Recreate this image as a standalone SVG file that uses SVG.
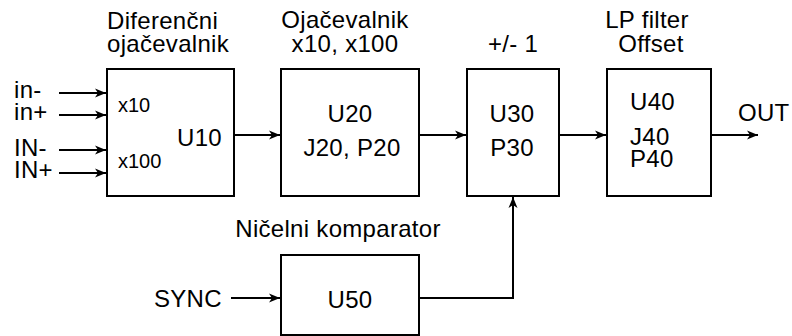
<svg xmlns="http://www.w3.org/2000/svg" width="792" height="336" viewBox="0 0 792 336">
<style>
text{font-family:"Liberation Sans",Arial,sans-serif;fill:#000}
.t{font-size:24px;letter-spacing:0.3px}
.s{font-size:20px}
.box{fill:#fff;stroke:#000;stroke-width:2}
.ln{fill:none;stroke:#000;stroke-width:2}
.c{text-anchor:middle}
</style>
<defs>
<marker id="ah" viewBox="-11 -5 12 10" refX="0" refY="0" markerWidth="12" markerHeight="10" markerUnits="userSpaceOnUse" orient="auto">
<path d="M0,0 L-11,-4.5 L-8,0 L-11,4.5 Z" fill="#000"/>
</marker>
</defs>
<rect width="792" height="336" fill="#fff"/>
<g id="connectors">
<line class="ln" x1="59" y1="93" x2="106" y2="93" marker-end="url(#ah)"/>
<line class="ln" x1="59" y1="115" x2="106" y2="115" marker-end="url(#ah)"/>
<line class="ln" x1="59" y1="150" x2="106" y2="150" marker-end="url(#ah)"/>
<line class="ln" x1="59" y1="173" x2="106" y2="173" marker-end="url(#ah)"/>
<line class="ln" x1="234" y1="135" x2="280" y2="135" marker-end="url(#ah)"/>
<line class="ln" x1="419" y1="135" x2="466" y2="135" marker-end="url(#ah)"/>
<line class="ln" x1="559" y1="135" x2="606" y2="135" marker-end="url(#ah)"/>
<line class="ln" x1="711" y1="135" x2="758" y2="135" marker-end="url(#ah)"/>
<line class="ln" x1="231" y1="298" x2="280" y2="298" marker-end="url(#ah)"/>
<polyline class="ln" points="419,298 513,298 513,197" marker-end="url(#ah)"/>
</g>
<g id="inputs">
<text class="t" x="14" y="98">in-</text>
<text class="t" x="14" y="120">in+</text>
<text class="t" x="14" y="156">IN-</text>
<text class="t" x="14" y="178">IN+</text>
<text class="t" x="154" y="307">SYNC</text>
</g>
<g id="U10">
<text class="t" x="107" y="29">Diferenčni</text>
<text class="t" x="107" y="52">ojačevalnik</text>
<rect class="box" x="107" y="69" width="127" height="127"/>
<text class="s" x="118" y="112">x10</text>
<text class="s" x="118" y="168">x100</text>
<text class="t" x="177" y="146">U10</text>
</g>
<g id="U20">
<text class="t c" x="345" y="28">Ojačevalnik</text>
<text class="t c" x="345" y="52">x10, x100</text>
<rect class="box" x="281" y="69" width="138" height="127"/>
<text class="t c" x="350" y="122">U20</text>
<text class="t c" x="352" y="156">J20, P20</text>
</g>
<g id="U30">
<text class="t c" x="513" y="52">+/- 1</text>
<rect class="box" x="467" y="69" width="92" height="127"/>
<text class="t c" x="512" y="122">U30</text>
<text class="t c" x="512" y="156">P30</text>
</g>
<g id="U40">
<text class="t c" x="647" y="28">LP filter</text>
<text class="t c" x="651" y="52">Offset</text>
<rect class="box" x="607" y="69" width="104" height="127"/>
<text class="t" x="630" y="110">U40</text>
<text class="t" x="630" y="145">J40</text>
<text class="t" x="630" y="167">P40</text>
<text class="t" x="738" y="121">OUT</text>
</g>
<g id="U50">
<text class="t c" x="338" y="237">Ničelni komparator</text>
<rect class="box" x="281" y="255" width="138" height="80"/>
<text class="t c" x="350" y="308">U50</text>
</g>
</svg>
